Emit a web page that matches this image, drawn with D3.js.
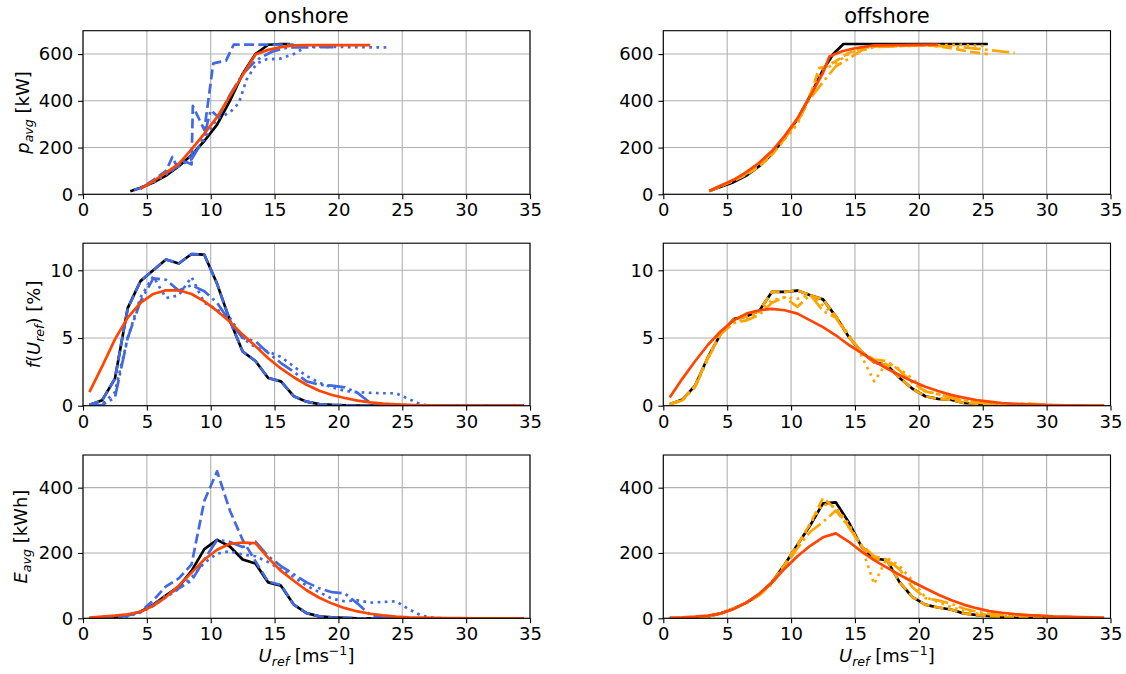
<!DOCTYPE html>
<html>
<head>
<meta charset="utf-8">
<script src="https://cdn.jsdelivr.net/npm/d3@7"></script>
<style>
  html, body { margin: 0; padding: 0; background: #fff; }
  svg { display: block; font-family: "DejaVu Sans", sans-serif; }
</style>
</head>
<body>
<div id="chart"></div>
<script>
// ----- wind speed bins (bin centres, m/s) -----
const uBins = [0.5, 1.5, 2.5, 3.5, 4.5, 5.5, 6.5, 7.5, 8.5, 9.5, 10.5, 11.5, 12.5, 13.5, 14.5,
  15.5, 16.5, 17.5, 18.5, 19.5, 20.5, 21.5, 22.5, 23.5, 24.5, 25.5, 26.5, 27.5, 28.5, 29.5,
  30.5, 31.5, 32.5, 33.5, 34.5];

const xTicks = [0, 5, 10, 15, 20, 25, 30, 35];
const powTicks = [0, 200, 400, 600];
const freqTicks = [0, 5, 10];
const enTicks = [0, 200, 400];

// ----- onshore: power curves [U, p] -----
const onPowBlack = [[3.7, 13], [4.5, 28], [5.5, 50], [6.5, 80], [7.5, 120], [8.5, 168], [9.5, 228],
  [10.5, 298], [11.5, 400], [12.5, 515], [13.5, 600], [14.5, 640], [15.5, 643], [16.2, 643]];
const onPowDashed = [[4.0, 18], [4.5, 27], [5.5, 60], [6.5, 100], [7.0, 160], [7.3, 125], [8.0, 140],
  [8.5, 128], [8.6, 378], [9.5, 275], [10.2, 560], [11.2, 572], [11.8, 640], [16.5, 641]];
const onPowDotted = [[4.5, 25], [5.5, 50], [6.5, 85], [7.5, 120], [8.5, 165], [9.5, 235], [10.5, 325],
  [11.5, 350], [12.2, 390], [12.8, 490], [13.6, 560], [14.4, 578], [15.4, 580], [16.5, 600],
  [17.5, 632], [24.0, 628]];
const onPowDashDot = [[4.5, 25], [5.5, 55], [6.5, 90], [7.5, 122], [8.5, 150], [9.0, 195], [9.5, 250],
  [10.0, 360], [10.6, 330], [11.5, 425], [12.5, 515], [13.5, 570], [14.0, 588], [14.8, 610],
  [16.0, 628], [19.6, 630]];
const onPowFit = [[4.5, 24], [5.5, 56], [6.5, 93], [7.5, 130], [8.5, 192], [9.5, 260], [10.5, 330],
  [11.5, 420], [12.5, 510], [13.5, 598], [14.5, 618], [15.5, 630], [16.5, 637], [17.5, 638], [22.5, 638]];

// ----- onshore: frequency f(U) [%] per bin -----
const onFreqBlack = [0.05, 0.4, 2.0, 7.2, 9.2, 10.0, 10.8, 10.5, 11.2, 11.15, 9.0, 6.3, 4.0, 3.3, 2.05,
  1.8, 0.7, 0.3, 0.12, 0.06, 0.03, 0.01, 0, 0, 0, 0, 0, 0, 0, 0, 0, 0, 0, 0, 0];
const onFreqDotted = [0, 0.1, 1.0, 5.0, 8.0, 9.55, 7.95, 8.15, 9.5, 7.6, 7.1, 6.5, 5.0, 4.3, 4.0,
  3.6, 2.9, 2.2, 1.7, 1.35, 1.1, 1.0, 0.95, 0.92, 0.92, 0.5, 0.08, 0, 0, 0, 0, 0, 0, 0, 0];
const onFreqDashDot = [0, 0.05, 0.6, 5.0, 7.7, 9.4, 9.3, 8.5, 8.9, 8.45, 7.6, 6.2, 5.0, 4.75, 3.9,
  3.15, 2.5, 1.8, 1.55, 1.48, 1.35, 0.95, 0.2, 0.05, 0, 0, 0, 0, 0, 0, 0, 0, 0, 0, 0];
const onFreqFit = [1.0, 2.9, 4.9, 6.5, 7.6, 8.25, 8.52, 8.52, 8.25, 7.7, 7.0, 6.2, 5.25, 4.4, 3.5,
  2.75, 2.1, 1.55, 1.1, 0.79, 0.57, 0.38, 0.25, 0.16, 0.1, 0.06, 0.035, 0.02, 0.01, 0.005, 0, 0, 0, 0, 0];

// ----- onshore: energy E [kWh] per bin -----
const onEnBlack = [0, 1, 4, 10, 20, 42, 70, 97, 145, 212, 240, 220, 180, 168, 110,
  100, 42, 16, 6, 3, 1.5, 0, 0, 0, 0, 0, 0, 0, 0, 0, 0, 0, 0, 0, 0];
const onEnDashed = [0, 1, 4, 10, 20, 55, 98, 122, 165, 360, 450, 330, 240, 175, 112,
  102, 42, 16, 6, 3, 1.5, 0, 0, 0, 0, 0, 0, 0, 0, 0, 0, 0, 0, 0, 0];
const onEnDotted = [0, 0, 1, 6, 18, 38, 65, 90, 125, 170, 198, 205, 195, 190, 172,
  150, 127, 100, 80, 60, 52, 55, 48, 50, 52, 28, 8, 1, 0, 0, 0, 0, 0, 0, 0];
const onEnDashDot = [0, 0, 2, 8, 20, 40, 70, 92, 115, 180, 240, 234, 218, 235, 190,
  160, 135, 110, 92, 80, 76, 45, 10, 2, 0, 0, 0, 0, 0, 0, 0, 0, 0, 0, 0];
const onEnFit = [2, 5, 8, 12, 20, 38, 65, 100, 140, 180, 210, 228, 232, 230, 185,
  145, 115, 86, 63, 45, 31, 21, 14, 9, 5, 3, 2, 1, 0.5, 0.3, 0, 0, 0, 0, 0];

// ----- offshore: power curves [U, p] -----
const offPowBlack = [[3.6, 14], [4.5, 32], [5.5, 52], [6.5, 80], [7.5, 120], [8.5, 172], [9.5, 242],
  [10.5, 322], [11.5, 422], [12.5, 532], [13.3, 600], [14.1, 643], [25.4, 643]];
const offPowDashed = [[3.6, 14], [4.5, 35], [5.5, 58], [6.5, 84], [7.5, 118], [8.5, 168], [9.5, 238],
  [10.5, 318], [11.5, 425], [12.2, 540], [12.8, 548], [13.5, 570], [14.5, 605], [15.5, 625],
  [17.0, 635], [21.0, 637], [22.5, 625], [24.0, 610], [25.4, 600]];
const offPowDotted = [[3.6, 14], [4.5, 35], [5.5, 60], [6.5, 86], [7.5, 122], [8.5, 170], [9.5, 235],
  [10.5, 300], [11.5, 430], [12.5, 530], [13.5, 562], [14.5, 600], [15.5, 625], [16.5, 632],
  [21.5, 638], [23.0, 640], [25.3, 634]];
const offPowDashDot = [[3.6, 14], [4.5, 36], [5.5, 60], [6.5, 88], [7.5, 125], [8.5, 175], [9.5, 240],
  [10.5, 310], [11.5, 410], [12.5, 480], [13.5, 548], [14.5, 580], [15.5, 615], [16.5, 630],
  [20.0, 637], [23.0, 632], [25.0, 620], [27.5, 605]];
const offPowFit = [[3.6, 14], [4.5, 38], [5.5, 62], [6.5, 95], [7.5, 135], [8.5, 185], [9.5, 250],
  [10.5, 325], [11.5, 420], [12.5, 520], [13.0, 590], [14.0, 612], [15.0, 625], [16.5, 637], [21.5, 640]];

// ----- offshore: frequency f(U) [%] per bin -----
const offFreqBlack = [0.1, 0.45, 1.5, 3.6, 5.3, 6.4, 6.6, 7.0, 8.4, 8.4, 8.5, 8.15, 7.85, 6.6, 5.1,
  4.0, 3.2, 3.0, 2.05, 1.25, 0.7, 0.5, 0.45, 0.2, 0.15, 0.1, 0.05, 0.03, 0.02, 0.01, 0, 0, 0, 0, 0];
const offFreqDotted = [0.1, 0.4, 1.4, 3.5, 5.4, 6.2, 6.4, 6.9, 7.8, 8.0, 7.9, 8.2, 7.4, 6.6, 5.3,
  3.7, 1.8, 3.2, 2.7, 2.0, 1.1, 0.85, 0.55, 0.35, 0.25, 0.15, 0.1, 0.1, 0.12, 0.08, 0.02, 0, 0, 0, 0];
const offFreqDashDot = [0.1, 0.4, 1.4, 3.5, 5.3, 6.1, 6.3, 6.7, 7.6, 8.0, 7.3, 8.2, 7.0, 6.5, 5.1,
  4.0, 3.4, 3.3, 2.6, 1.7, 1.05, 0.85, 0.6, 0.4, 0.25, 0.15, 0.12, 0.12, 0.15, 0.1, 0.03, 0, 0, 0, 0];
const offFreqFit = [0.6, 2.0, 3.3, 4.5, 5.5, 6.3, 6.8, 7.05, 7.15, 7.05, 6.8, 6.3, 5.8, 5.2, 4.5,
  3.9, 3.3, 2.75, 2.25, 1.8, 1.4, 1.08, 0.8, 0.6, 0.42, 0.3, 0.2, 0.14, 0.1, 0.07, 0.05, 0.03, 0.02, 0.01, 0.01];

// ----- offshore: energy E [kWh] per bin -----
const offEnBlack = [0, 0.5, 2, 6, 15, 30, 48, 72, 110, 165, 225, 285, 352, 355, 295,
  220, 183, 178, 110, 65, 42, 33, 27, 15, 10, 7, 4, 2, 1, 1, 0, 0, 0, 0, 0];
const offEnDashed = [0, 0.5, 2, 6, 15, 30, 48, 72, 110, 165, 225, 290, 368, 335, 282,
  220, 183, 178, 110, 65, 42, 33, 27, 15, 10, 7, 4, 2, 1, 1, 0, 0, 0, 0, 0];
const offEnDotted = [0, 0.5, 2, 6, 15, 30, 46, 72, 105, 160, 220, 290, 350, 340, 290,
  220, 105, 185, 160, 115, 65, 50, 35, 22, 15, 10, 7, 7, 9, 6, 1, 0, 0, 0, 0];
const offEnDashDot = [0, 0.5, 2, 6, 15, 30, 46, 70, 105, 158, 215, 265, 295, 330, 280,
  225, 190, 180, 150, 95, 62, 55, 45, 30, 20, 13, 10, 9, 10, 8, 2, 0, 0, 0, 0];
const offEnFit = [2, 3, 5, 8, 15, 28, 48, 75, 110, 152, 190, 222, 248, 260, 235,
  205, 178, 155, 133, 112, 92, 73, 56, 42, 31, 22, 17, 13, 10, 8, 6, 5, 4, 3, 2];

// ----- layout -----
const W = 1126, H = 674;
const cols = [[83, 530], [663.3, 1110.5]];
const rows = [[30.7, 194.3], [243.2, 405.7], [455, 618.3]];
const fs = 18;             // tick / label font size
const lw = 2.7;            // line width
const blue = "#4169E1", orange = "#FFA500", fitRed = "#FF4500";

const styles = {
  solid: null,
  dashed: [3.7 * lw, 1.6 * lw],
  dotted: [1 * lw, 1.65 * lw],
  dashdot: [6.4 * lw, 1.6 * lw, 1 * lw, 1.6 * lw]
};

const bins = vals => uBins.map((u, i) => [u, vals[i]]);

const rowDefs = [
  { domain: [0, 700], ticks: powTicks },
  { domain: [0, 12], ticks: freqTicks },
  { domain: [0, 500], ticks: enTicks }
];

function seriesFor(col, row) {
  const c = col === 0 ? blue : orange;
  if (col === 0) {
    if (row === 0) return [
      { d: onPowBlack, color: "#000", dash: "solid" },
      { d: onPowDashed, color: c, dash: "dashed" },
      { d: onPowDotted, color: c, dash: "dotted" },
      { d: onPowDashDot, color: c, dash: "dashdot" },
      { d: onPowFit, color: fitRed, dash: "solid" }];
    if (row === 1) return [
      { d: bins(onFreqBlack), color: "#000", dash: "solid" },
      { d: bins(onFreqBlack), color: c, dash: "dashed" },
      { d: bins(onFreqDotted), color: c, dash: "dotted" },
      { d: bins(onFreqDashDot), color: c, dash: "dashdot" },
      { d: bins(onFreqFit), color: fitRed, dash: "solid" }];
    return [
      { d: bins(onEnBlack), color: "#000", dash: "solid" },
      { d: bins(onEnDashed), color: c, dash: "dashed" },
      { d: bins(onEnDotted), color: c, dash: "dotted" },
      { d: bins(onEnDashDot), color: c, dash: "dashdot" },
      { d: bins(onEnFit), color: fitRed, dash: "solid" }];
  }
  if (row === 0) return [
    { d: offPowBlack, color: "#000", dash: "solid" },
    { d: offPowDashed, color: c, dash: "dashed" },
    { d: offPowDotted, color: c, dash: "dotted" },
    { d: offPowDashDot, color: c, dash: "dashdot" },
    { d: offPowFit, color: fitRed, dash: "solid" }];
  if (row === 1) return [
    { d: bins(offFreqBlack), color: "#000", dash: "solid" },
    { d: bins(offFreqBlack), color: c, dash: "dashed" },
    { d: bins(offFreqDotted), color: c, dash: "dotted" },
    { d: bins(offFreqDashDot), color: c, dash: "dashdot" },
    { d: bins(offFreqFit), color: fitRed, dash: "solid" }];
  return [
    { d: bins(offEnBlack), color: "#000", dash: "solid" },
    { d: bins(offEnDashed), color: c, dash: "dashed" },
    { d: bins(offEnDotted), color: c, dash: "dotted" },
    { d: bins(offEnDashDot), color: c, dash: "dashdot" },
    { d: bins(offEnFit), color: fitRed, dash: "solid" }];
}

// mathtext-like label built from tspans
function addMath(textSel, parts, size) {
  let shift = 0;
  parts.forEach(p => {
    const target = p.sub ? size * 0.24 : p.sup ? -size * 0.4 : 0;
    textSel.append("tspan")
      .attr("dy", target - shift)
      .style("font-style", p.it ? "italic" : "normal")
      .style("font-size", (p.sub || p.sup) ? (size * 0.7) + "px" : size + "px")
      .text(p.t);
    shift = target;
  });
}

const svg = d3.select("#chart").append("svg")
  .attr("width", W)
  .attr("height", H);

const defs = svg.append("defs");

cols.forEach((cx, ci) => {
  rows.forEach((ry, ri) => {
    const x = d3.scaleLinear().domain([0, 35]).range(cx);
    const y = d3.scaleLinear().domain(rowDefs[ri].domain).range([ry[1], ry[0]]);
    const g = svg.append("g");
    const clipId = `clip-${ci}-${ri}`;

    defs.append("clipPath").attr("id", clipId)
      .append("rect")
      .attr("x", cx[0]).attr("y", ry[0])
      .attr("width", cx[1] - cx[0]).attr("height", ry[1] - ry[0]);

    // grid
    g.selectAll(".vgrid").data(xTicks).enter().append("line")
      .attr("x1", d => x(d)).attr("x2", d => x(d))
      .attr("y1", ry[0]).attr("y2", ry[1])
      .attr("stroke", "#b0b0b0").attr("stroke-width", 1.1);
    g.selectAll(".hgrid").data(rowDefs[ri].ticks).enter().append("line")
      .attr("y1", d => y(d)).attr("y2", d => y(d))
      .attr("x1", cx[0]).attr("x2", cx[1])
      .attr("stroke", "#b0b0b0").attr("stroke-width", 1.1);

    // data lines
    const line = d3.line().x(d => x(d[0])).y(d => y(d[1]));
    const lines = g.append("g").attr("clip-path", `url(#${clipId})`);
    seriesFor(ci, ri).forEach(s => {
      lines.append("path")
        .attr("d", line(s.d))
        .attr("fill", "none")
        .attr("stroke", s.color)
        .attr("stroke-width", lw)
        .attr("stroke-linejoin", "round")
        .attr("stroke-dasharray", styles[s.dash] ? styles[s.dash].join(",") : null);
    });

    // axes
    const xAxis = g.append("g")
      .attr("transform", `translate(0,${ry[1]})`)
      .call(d3.axisBottom(x).tickValues(xTicks).tickSize(4.9).tickPadding(4.4).tickSizeOuter(0));
    const yAxis = g.append("g")
      .attr("transform", `translate(${cx[0]},0)`)
      .call(d3.axisLeft(y).tickValues(rowDefs[ri].ticks).tickSize(4.9).tickPadding(4.9).tickSizeOuter(0));
    [xAxis, yAxis].forEach(a => {
      a.select(".domain").remove();
      a.selectAll("line").attr("stroke", "#000").attr("stroke-width", 1.1);
      a.selectAll("text")
        .style("font-family", "DejaVu Sans")
        .style("font-size", fs + "px")
        .attr("fill", "#000");
    });

    // spines
    g.append("rect")
      .attr("x", cx[0]).attr("y", ry[0])
      .attr("width", cx[1] - cx[0]).attr("height", ry[1] - ry[0])
      .attr("fill", "none").attr("stroke", "#000").attr("stroke-width", 1.1);

    // x label under bottom row
    if (ri === 2) {
      const t = svg.append("text")
        .attr("x", (cx[0] + cx[1]) / 2).attr("y", 662)
        .attr("text-anchor", "middle")
        .style("font-size", fs + "px");
      addMath(t, [{ t: "U", it: true }, { t: "ref", it: true, sub: true }, { t: " [ms" },
        { t: "\u22121", sup: true }, { t: "]" }], fs);
    }
  });

  // column titles
  svg.append("text")
    .attr("x", (cx[0] + cx[1]) / 2).attr("y", 22.5)
    .attr("text-anchor", "middle")
    .style("font-size", "21px")
    .text(ci === 0 ? "onshore" : "offshore");
});

// y labels (left column only)
const yLabels = [
  { xPos: 28.5, parts: [{ t: "p", it: true }, { t: "avg", it: true, sub: true }, { t: " [kW]" }] },
  { xPos: 40, parts: [{ t: "f", it: true }, { t: "(" }, { t: "U", it: true }, { t: "ref", it: true, sub: true },
    { t: ")" }, { t: " [%]" }] },
  { xPos: 27, parts: [{ t: "E", it: true }, { t: "avg", it: true, sub: true }, { t: " [kWh]" }] }
];
yLabels.forEach((lab, i) => {
  const cy = (rows[i][0] + rows[i][1]) / 2;
  const t = svg.append("text")
    .attr("transform", `translate(${lab.xPos},${cy}) rotate(-90)`)
    .attr("text-anchor", "middle")
    .style("font-size", fs + "px");
  addMath(t, lab.parts, fs);
});
</script>
</body>
</html>
